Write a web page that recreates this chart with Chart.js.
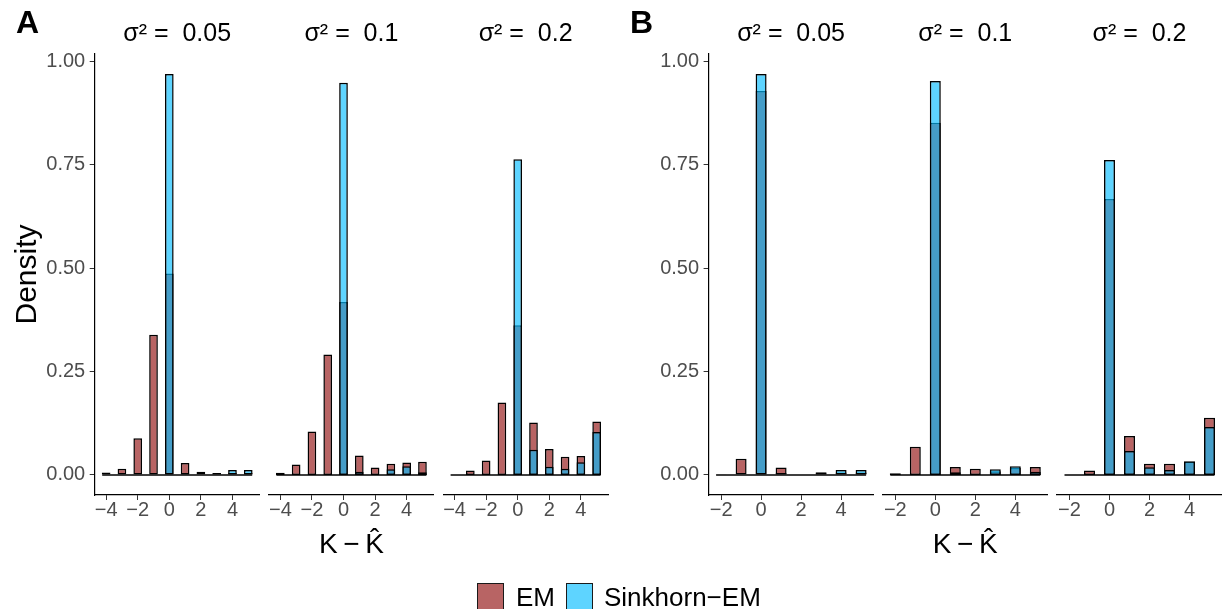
<!DOCTYPE html>
<html><head><meta charset="utf-8">
<script src="https://cdn.jsdelivr.net/npm/chart.js@4.4.1/dist/chart.umd.min.js"></script>
<style>
html,body{margin:0;padding:0;background:#fff;}
#wrap{position:relative;width:1222px;height:609px;overflow:hidden;font-family:'Liberation Sans',Arial,sans-serif;}
canvas{position:absolute;left:0;top:0;}
.tag{position:absolute;font-weight:bold;font-size:32px;line-height:1;color:#000;}
.key{position:absolute;width:27px;height:27px;border:1px solid #1a1a1a;box-sizing:border-box;}
.lab{position:absolute;font-size:26px;line-height:1;color:#000;white-space:nowrap;}
</style></head><body>
<div id="wrap">
<canvas id="a1" width="1222" height="609"></canvas>
<canvas id="a2" width="1222" height="609"></canvas>
<canvas id="a3" width="1222" height="609"></canvas>
<canvas id="b1" width="1222" height="609"></canvas>
<canvas id="b2" width="1222" height="609"></canvas>
<canvas id="b3" width="1222" height="609"></canvas>
<div class="tag" style="left:16px;top:6px;">A</div>
<div class="tag" style="left:630px;top:6px;">B</div>
<div class="key" style="left:477px;top:583px;background:rgb(184,100,100);"></div>
<div class="lab" style="left:516px;top:584px;">EM</div>
<div class="key" style="left:566px;top:583px;background:rgb(94,212,255);"></div>
<div class="lab" style="left:604px;top:584px;">Sinkhorn−EM</div>
</div>
<script>
// ---- data ----
const kA = [-4, -3, -2, -1, 0, 1, 2, 3, 4, 5];
const kB = [-2, -1, 0, 1, 2, 3, 4, 5];
const sigmaLabels = ['0.05', '0.1', '0.2'];
const emA_005 = [0.006, 0.015, 0.089, 0.339, 0.487, 0.029, 0.008, 0.003, 0.005, 0.005];
const skA_005 = [0, 0, 0, 0, 0.969, 0.004, 0, 0.005, 0.012, 0.012];
const emA_01  = [0.0056, 0.025, 0.105, 0.291, 0.418, 0.047, 0.018, 0.027, 0.030, 0.032];
const skA_01  = [0, 0, 0, 0, 0.948, 0.008, 0, 0.0137, 0.021, 0.0064];
const emA_02  = [0, 0.0105, 0.035, 0.175, 0.362, 0.127, 0.063, 0.044, 0.046, 0.129];
const skA_02  = [0, 0, 0, 0, 0.763, 0.061, 0.020, 0.015, 0.031, 0.104];
const emB_005 = [0.002, 0.039, 0.928, 0.018, 0, 0.004, 0.006, 0.006];
const skB_005 = [0, 0, 0.969, 0.005, 0, 0.0064, 0.012, 0.012];
const emB_01  = [0.004, 0.068, 0.851, 0.019, 0.015, 0.009, 0.017, 0.019];
const skB_01  = [0, 0, 0.952, 0.0064, 0, 0.0137, 0.021, 0.008];
const emB_02  = [0, 0.011, 0.667, 0.094, 0.027, 0.027, 0.032, 0.138];
const skB_02  = [0, 0, 0.761, 0.058, 0.0185, 0.012, 0.033, 0.116];
const xTicksA = [-4, -2, 0, 2, 4];
const xTickLabelsA = ['\u22124', '\u22122', '0', '2', '4'];
const xTicksB = [-2, 0, 2, 4];
const xTickLabelsB = ['\u22122', '0', '2', '4'];
const yTicks = [0, 0.25, 0.5, 0.75, 1];
const yTickLabels = ['0.00', '0.25', '0.50', '0.75', '1.00'];

// ---- styling / layout ----
Chart.defaults.font.family = "'Liberation Sans', Arial, sans-serif";
const EM_FILL = 'rgba(146,17,17,0.65)';
const SK_FILL = 'rgba(7,189,255,0.65)';
const PANEL_W = 165;
const AREA_BOTTOM = 495;
const XAXIS_H = 70;
const W = 1222, H = 609;
const binHalf = 0.25;

const allVals = [].concat(emA_005, skA_005, emA_01, skA_01, emA_02, skA_02, emB_005, skB_005, emB_01, skB_01, emB_02, skB_02);
const vMax = Math.max.apply(null, allVals);
const yLo = -0.05 * vMax, yHi = vMax * 1.05;

function makePanel(id, panelLeft, ks, em, sk, sigma, xt, xtl, showY, yAxisW, showYTitle, showXTitle) {
  const lo = Math.min.apply(null, ks) - binHalf, hi = Math.max.apply(null, ks) + binHalf;
  const ex = (hi - lo) * 0.05;
  const padLeft = showY ? panelLeft - yAxisW : panelLeft;
  new Chart(document.getElementById(id), {
    type: 'bar',
    data: {
      datasets: [
        { type: 'line', data: [{x: lo, y: 0}, {x: hi, y: 0}], borderColor: '#000', borderWidth: 1.4, pointRadius: 0, order: -1 },
        { label: 'Sinkhorn\u2212EM', data: ks.map((k, i) => ({x: k, y: sk[i]})), backgroundColor: SK_FILL, borderColor: '#000', borderWidth: 1.5, borderSkipped: false, order: 0 },
        { label: 'EM', data: ks.map((k, i) => ({x: k, y: em[i]})), backgroundColor: EM_FILL, borderColor: '#000', borderWidth: 1.5, borderSkipped: false, order: 1 }
      ]
    },
    options: {
      responsive: false, devicePixelRatio: 1, animation: false, events: [],
      datasets: { bar: { grouped: false, categoryPercentage: 1, barPercentage: 0.55 } },
      layout: { padding: { left: padLeft, right: W - (panelLeft + PANEL_W), top: 0, bottom: H - AREA_BOTTOM - XAXIS_H } },
      plugins: {
        legend: { display: false }, tooltip: { enabled: false },
        title: { display: true, text: '\u03c3\u00b2 =  ' + sigma, fullSize: false, color: '#000', font: { size: 25, weight: 'normal' }, padding: { top: 19, bottom: 5 } }
      },
      scales: {
        x: {
          type: 'linear', min: lo - ex, max: hi + ex, offset: false,
          afterBuildTicks: s => { s.ticks = xt.map(v => ({value: v})); },
          afterFit: s => { s.height = XAXIS_H; },
          ticks: { callback: (v, i) => xtl[i], color: '#4D4D4D', font: { size: 20 }, padding: -2, autoSkip: false, maxRotation: 0 },
          grid: { display: true, drawOnChartArea: false, drawTicks: true, tickLength: 5, tickColor: '#333', tickWidth: 1, offset: false },
          border: { display: true, color: '#000', width: 1.2 },
          title: { display: showXTitle, text: 'K\u2009\u2212\u2009K\u0302', color: '#000', font: { size: 28 }, padding: { top: 0, bottom: 3 } }
        },
        y: {
          display: showY, min: yLo, max: yHi,
          afterBuildTicks: s => { s.ticks = yTicks.map(v => ({value: v})); },
          afterFit: s => { if (showY) s.width = yAxisW; },
          ticks: { callback: (v, i) => yTickLabels[i], color: '#4D4D4D', font: { size: 20 }, padding: 4.5 },
          grid: { display: true, drawOnChartArea: false, drawTicks: true, tickLength: 5, tickColor: '#333', tickWidth: 1 },
          border: { display: true, color: '#000', width: 1.2 },
          title: { display: showYTitle, text: 'Density', color: '#000', font: { size: 30 }, padding: { top: 10, bottom: 0 } }
        }
      }
    }
  });
}

makePanel('a1', 94.7, kA, emA_005, skA_005, sigmaLabels[0], xTicksA, xTickLabelsA, true, 94.7, true, false);
makePanel('a2', 268.9, kA, emA_01, skA_01, sigmaLabels[1], xTicksA, xTickLabelsA, false, 0, false, true);
makePanel('a3', 443.1, kA, emA_02, skA_02, sigmaLabels[2], xTicksA, xTickLabelsA, false, 0, false, false);
makePanel('b1', 708.6, kB, emB_005, skB_005, sigmaLabels[0], xTicksB, xTickLabelsB, true, 60, false, false);
makePanel('b2', 882.8, kB, emB_01, skB_01, sigmaLabels[1], xTicksB, xTickLabelsB, false, 0, false, true);
makePanel('b3', 1057.0, kB, emB_02, skB_02, sigmaLabels[2], xTicksB, xTickLabelsB, false, 0, false, false);
</script>
</body></html>
